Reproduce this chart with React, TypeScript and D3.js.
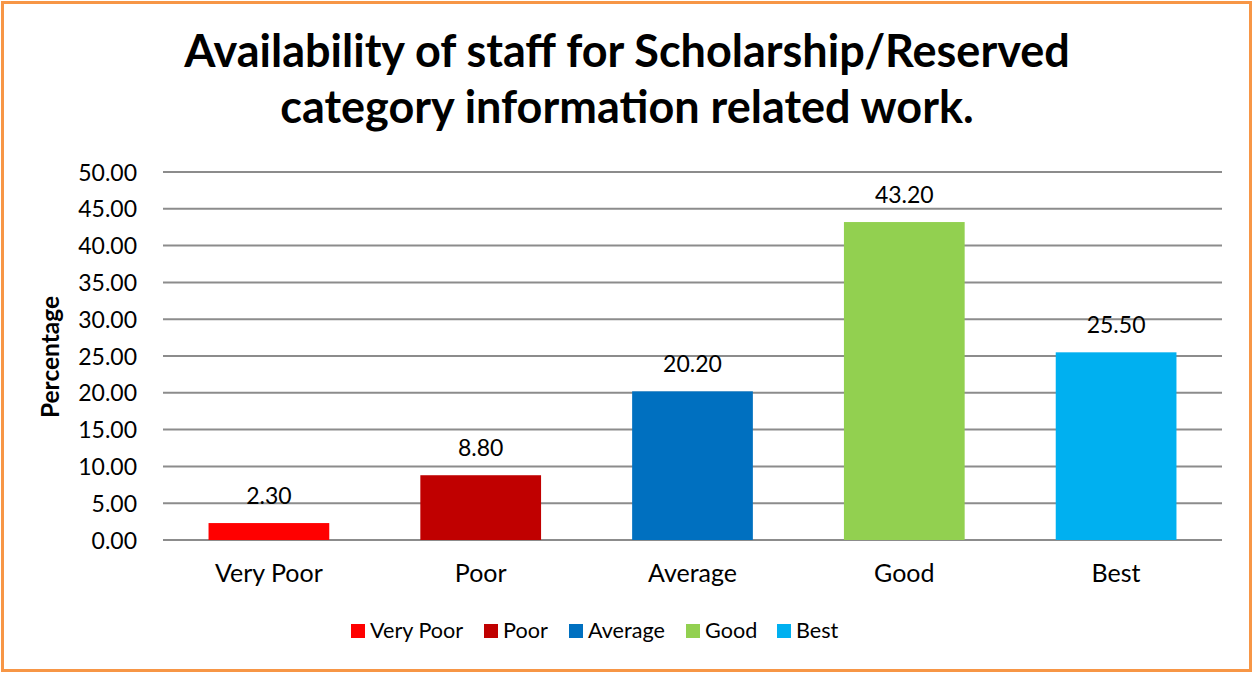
import React from "react";
import * as d3 from "d3";

const categories = ["Very Poor", "Poor", "Average", "Good", "Best"];
const values = [2.3, 8.8, 20.2, 43.2, 25.5];
const colors = ["#FF0000", "#C00000", "#0070C0", "#92D050", "#00B0F0"];
const yTicks = [0, 5, 10, 15, 20, 25, 30, 35, 40, 45, 50];
const titleLines = ["Availability of staff for Scholarship/Reserved", "category information related work."];
const yAxisTitle = "Percentage";

const W = 1253;
const H = 673;
const FONT = "Lato, 'Open Sans', sans-serif";

export default function App() {
  const left = 163, right = 1222, top = 172, bottom = 540;
  const x = d3.scaleBand<string>().domain(categories).range([left, right]).paddingInner(0.43).paddingOuter(0.215);
  const y = d3.scaleLinear().domain([0, 50]).range([bottom, top]);
  const legendX = [351, 484, 569, 686, 777];

  return (
    <svg width={W} height={H} style={{ position: "absolute", left: 0, top: 0, background: "#fff" }}>
      <rect x={2.5} y={2.5} width={W - 5} height={H - 5} fill="#fff" stroke="#F79646" strokeWidth={3} />
      {titleLines.map((t, i) => (
        <text key={i} x={627} y={67 + i * 56} textAnchor="middle" fontFamily={FONT} fontWeight="bold" fontSize={45} fill="#000">
          {t}
        </text>
      ))}
      {yTicks.map((t) => (
        <g key={t}>
          <line x1={left} x2={right} y1={y(t)} y2={y(t)} stroke="#8C8C8C" strokeWidth={2} />
          <text x={137} y={y(t) + 8.5} textAnchor="end" fontFamily={FONT} fontSize={23} fill="#000">
            {d3.format(".2f")(t)}
          </text>
        </g>
      ))}
      <text transform={`translate(59,357) rotate(-90)`} textAnchor="middle" fontFamily={FONT} fontWeight="bold" fontSize={24.5} fill="#000">
        {yAxisTitle}
      </text>
      {categories.map((c, i) => (
        <g key={c}>
          <rect x={x(c)} y={y(values[i])} width={x.bandwidth()} height={bottom - y(values[i])} fill={colors[i]} />
          <text x={(x(c) as number) + x.bandwidth() / 2} y={y(values[i]) - 19} textAnchor="middle" fontFamily={FONT} fontSize={23} fill="#000">
            {d3.format(".2f")(values[i])}
          </text>
          <text x={(x(c) as number) + x.bandwidth() / 2} y={582} textAnchor="middle" fontFamily={FONT} fontSize={25} fill="#000">
            {c}
          </text>
        </g>
      ))}
      {categories.map((c, i) => (
        <g key={"lg" + c}>
          <rect x={legendX[i]} y={624} width={14} height={14} fill={colors[i]} />
          <text x={legendX[i] + 19} y={638} fontFamily={FONT} fontSize={21.6} fill="#000">
            {c}
          </text>
        </g>
      ))}
    </svg>
  );
}
